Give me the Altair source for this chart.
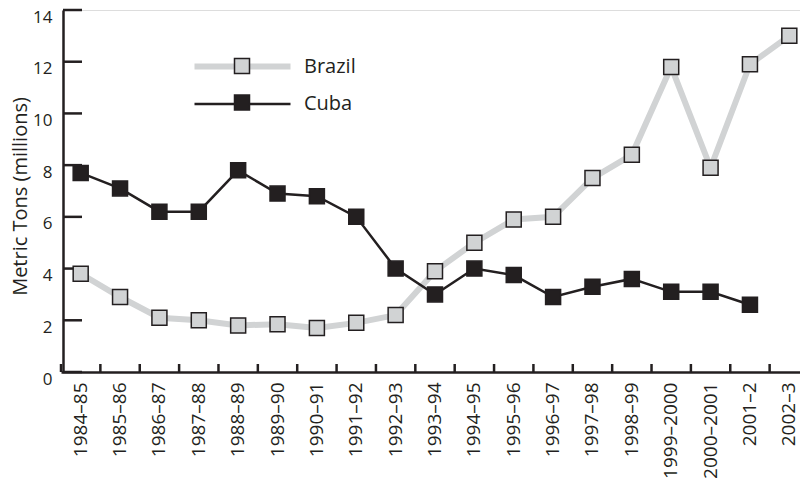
import altair as alt
import pandas as pd

seasons = ["1984–85", "1985–86", "1986–87", "1987–88", "1988–89", "1989–90",
           "1990–91", "1991–92", "1992–93", "1993–94", "1994–95", "1995–96",
           "1996–97", "1997–98", "1998–99", "1999–2000", "2000–2001", "2001–2", "2002–3"]
brazil = [3.8, 2.9, 2.1, 2.0, 1.8, 1.85, 1.7, 1.9, 2.2, 3.9, 5.0, 5.9, 6.0, 7.5, 8.4, 11.8, 7.9, 11.9, 13.0]
cuba = [7.7, 7.1, 6.2, 6.2, 7.8, 6.9, 6.8, 6.0, 4.0, 3.0, 4.0, 3.75, 2.9, 3.3, 3.6, 3.1, 3.1, 2.6]
series_names = ["Brazil", "Cuba"]
y_ticks = [0, 2, 4, 6, 8, 10, 12, 14]

rows = []
for s, v in zip(seasons, brazil):
    rows.append({"season": s, "value": v, "country": "Brazil", "country_pt": "Brazil"})
for s, v in zip(seasons, cuba):
    rows.append({"season": s, "value": v, "country": "Cuba", "country_pt": "Cuba"})
df = pd.DataFrame(rows)
ytick_df = pd.DataFrame({"value": y_ticks})
xtick_df = pd.DataFrame({"season": seasons})

INK = "#231f20"
GRAY = "#d1d3d4"
FONT = "Open Sans"
PLOT_H = 362

x_scale = alt.Scale(type="band", range=[-2, 746], paddingInner=0, paddingOuter=0)
y_scale = alt.Scale(domain=[0, 14], nice=False, zero=True)

x_axis = alt.Axis(title=None, labelAngle=-90, labelFont=FONT, labelFontSize=19,
                  labelColor=INK, labelPadding=10, labelOffset=0, ticks=False, tickSize=0,
                  domainColor=INK, domainWidth=2.5, grid=False, labelOverlap=False)
y_axis = alt.Axis(values=y_ticks, title="Metric Tons (millions)", ticks=False, tickSize=0,
                  grid=False, domainColor=INK, domainWidth=2.5, labelPadding=11, labelOffset=7,
                  labelFont=FONT, labelFontSize=17, labelColor=INK,
                  titleFont=FONT, titleFontSize=20, titleFontWeight="normal", titleColor=INK,
                  titleBaseline="alphabetic", titleX=-37, titleY=186)

x_enc = alt.X("season:N", sort=seasons, scale=x_scale, axis=x_axis)
y_enc = alt.Y("value:Q", scale=y_scale, axis=y_axis)

lines = alt.Chart(df).mark_line().encode(
    x=x_enc, y=y_enc,
    color=alt.Color("country:N",
                    scale=alt.Scale(domain=series_names, range=[GRAY, INK]),
                    legend=alt.Legend(orient="none", legendX=169, legendY=46, title=None,
                                      symbolType="M-6.4,0H6.4", symbolSize=225,
                                      labelOffset=51, labelFont=FONT, labelFontSize=20,
                                      labelColor=INK, rowPadding=15, zindex=1)),
    strokeWidth=alt.StrokeWidth("country:N",
                                scale=alt.Scale(type="ordinal", domain=series_names, range=[6, 2.5])),
)

points = alt.Chart(df).mark_point(shape="square", filled=True, size=225, opacity=1).encode(
    x=x_enc, y=y_enc,
    fill=alt.Fill("country_pt:N",
                  scale=alt.Scale(range=[GRAY, INK]),
                  legend=alt.Legend(orient="none", legendX=169, legendY=46, title=None,
                                    symbolType="square", symbolSize=225,
                                    symbolStrokeColor=INK, symbolStrokeWidth=1.5,
                                    symbolOpacity=1, labelExpr="''",
                                    labelOffset=51, labelFont=FONT, labelFontSize=20,
                                    rowPadding=14.5, zindex=2)),
    stroke=alt.value(INK),
    strokeWidth=alt.value(1.5),
)

yticks = alt.Chart(ytick_df).mark_rule(color=INK, strokeWidth=2.5).encode(
    y=y_enc,
    x=alt.value(0), x2=alt.value(19),
)

xticks = alt.Chart(xtick_df).mark_rule(color=INK, strokeWidth=2.5).encode(
    x=alt.X("season:N", sort=seasons, scale=x_scale, bandPosition=0, axis=x_axis),
    y=alt.value(PLOT_H), y2=alt.value(PLOT_H - 8),
)

chart = alt.layer(yticks, xticks, lines, points).properties(
    width=737, height=PLOT_H,
    autosize=alt.AutoSizeParams(type="none"),
    padding={"left": 55, "top": 2, "right": 0, "bottom": 110},
).configure_view(stroke=None).configure(font=FONT)

chart.save("out.html", embed_options={"renderer": "svg", "actions": False})
